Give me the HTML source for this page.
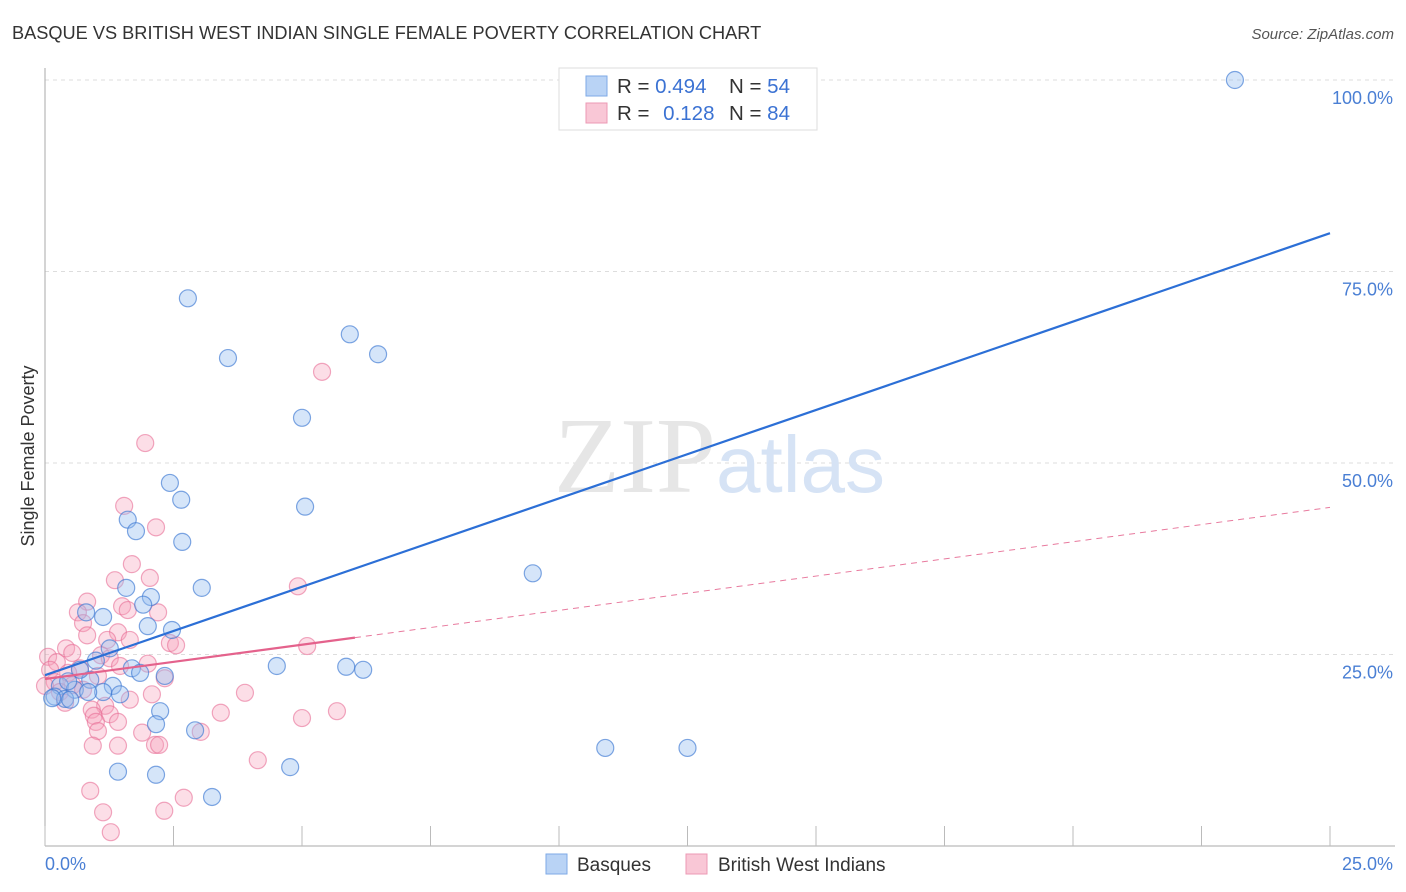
<!DOCTYPE html>
<html><head><meta charset="utf-8"><style>
body{margin:0;background:#fff;font-family:"Liberation Sans",sans-serif;}
svg{display:block}
</style></head><body>
<svg id="chart" width="1406" height="892">
<text x="12" y="39" font-size="18.2" fill="#333">BASQUE VS BRITISH WEST INDIAN SINGLE FEMALE POVERTY CORRELATION CHART</text>
<text x="1394" y="39" font-size="15" fill="#555" font-style="italic" text-anchor="end">Source: ZipAtlas.com</text>
<text x="34" y="456" font-size="18" fill="#333" text-anchor="middle" transform="rotate(-90 34 456)">Single Female Poverty</text>
<g id="grid"></g>
<g id="axes"></g>
<text x="716" y="492" font-size="108" fill="#e6e6e6" text-anchor="end" font-family="Liberation Serif,serif">ZIP</text>
<text x="716" y="492" font-size="80" fill="#d6e3f5">atlas</text>
<g id="pts"></g>
<g id="lines"></g>
<g>
<rect x="559" y="68" width="258" height="62" fill="#fff" stroke="#ddd"/>
<rect x="586" y="76" width="21" height="20" fill="#b9d3f5" stroke="#7ea9e6"/>
<rect x="586" y="103" width="21" height="20" fill="#f9c7d6" stroke="#ec9ab4"/>
<text x="617" y="93" font-size="20.5" fill="#333">R = <tspan fill="#3b72d3">0.494</tspan></text>
<text x="729" y="93" font-size="20.5" fill="#333">N = <tspan fill="#3b72d3">54</tspan></text>
<text x="617" y="120" font-size="20.5" fill="#333">R = <tspan fill="#3b72d3" dx="8">0.128</tspan></text>
<text x="729" y="120" font-size="20.5" fill="#333">N = <tspan fill="#3b72d3">84</tspan></text>
</g>
<g>
<rect x="546" y="854" width="21" height="20" fill="#b9d3f5" stroke="#7ea9e6"/>
<text x="577" y="871" font-size="19" fill="#333">Basques</text>
<rect x="686" y="854" width="21" height="20" fill="#f9c7d6" stroke="#ec9ab4"/>
<text x="718" y="871" font-size="19" fill="#333">British West Indians</text>
</g>
</svg>
<script>
const yTicks=[25,50,75,100];
const yTickLabels=["25.0%","50.0%","75.0%","100.0%"];
const xTicks=[0,2.5,5,7.5,10,12.5,15,17.5,20,22.5,25];
const blueX=[23.15,2.78,3.56,5.93,6.48,5.0,2.43,2.65,5.06,1.61,1.77,2.67,9.49,3.05,1.58,2.06,1.91,0.80,1.13,2.0,2.47,1.26,0.99,1.69,1.85,2.33,4.51,5.86,6.19,0.88,0.29,0.58,1.32,1.13,1.46,0.84,0.19,0.39,0.49,0.14,2.24,2.16,2.92,10.9,12.5,1.42,2.16,4.77,3.25,0.68,0.45];
const blueY=[100,71.5,63.7,66.8,64.2,55.9,47.4,45.2,44.3,42.6,41.1,39.7,35.6,33.7,33.7,32.5,31.5,30.5,29.9,28.7,28.2,25.8,24.2,23.2,22.6,22.2,23.5,23.4,23.0,21.7,20.9,20.4,20.9,20.1,19.8,20.1,19.5,19.2,19.1,19.3,17.6,15.9,15.1,12.8,12.8,9.7,9.3,10.3,6.4,23.0,21.5];
const pinkX=[5.39,1.95,1.54,2.16,1.69,2.04,1.36,4.92,0.82,1.50,0.64,2.20,1.61,0.74,0.82,1.42,1.21,1.65,2.43,2.55,5.10,0.41,0.53,1.09,0.06,1.26,0.23,2.0,1.46,0.68,0.10,0.45,1.03,2.33,0.19,0.54,0,0.74,0.29,3.89,2.08,1.65,0.39,1.17,0.91,0.95,5.68,3.42,1.26,0.99,1.42,5.0,1.03,3.03,1.89,0.93,1.42,2.14,2.22,4.14,0.88,1.13,2.32,2.70,1.28];
const pinkY=[61.9,52.6,44.4,41.6,36.8,35.0,34.7,33.9,31.9,31.3,30.5,30.5,30.8,29.1,27.5,27.9,26.9,26.9,26.5,26.2,26.1,25.8,25.2,24.9,24.7,24.5,24.0,23.8,23.5,23.2,23.0,22.6,22.2,21.9,21.4,21.0,20.9,20.4,20.1,20.0,19.8,19.1,18.7,18.3,17.8,17.0,17.6,17.4,17.2,16.2,16.2,16.7,15.0,14.9,14.8,13.1,13.1,13.2,13.2,11.2,7.2,4.4,4.6,6.3,1.8];
const blueLine=[22.3,80.0];
const pinkLine=[21.8,44.2];
const pinkSolidEnd=6.03;
const X=v=>45+v/25*1285, Y=v=>846-v/100*766;
const NS="http://www.w3.org/2000/svg";
function mk(t,a,p){const e=document.createElementNS(NS,t);for(const k in a)e.setAttribute(k,a[k]);p.appendChild(e);return e;}
const grid=document.getElementById('grid'),axes=document.getElementById('axes'),pts=document.getElementById('pts'),lines=document.getElementById('lines');
yTicks.forEach((t,i)=>{
 const l=mk('line',{x1:45,x2:1395,y1:Y(t),y2:Y(t),stroke:'#ddd','stroke-dasharray':'4,4'},grid);
 
 
 const tx=mk('text',{x:1393,y:Y(t)+24,'font-size':18,fill:'#4a7fd4','text-anchor':'end'},grid);
 tx.textContent=yTickLabels[i];
 
 
});
const ya=mk('line',{x1:45,x2:45,y1:68,y2:846,stroke:'#aaa'},axes);


const xa=mk('line',{x1:45,x2:1395,y1:846,y2:846,stroke:'#aaa'},axes);


xTicks.forEach(t=>{
 const l=mk('line',{x1:X(t),x2:X(t),y1:826,y2:846,stroke:'#bbb'},axes);
 
 
});
const xl0=mk('text',{x:45,y:870,'font-size':18,fill:'#4a7fd4'},axes);xl0.textContent='0.0%';


const xl1=mk('text',{x:1393,y:870,'font-size':18,fill:'#4a7fd4','text-anchor':'end'},axes);xl1.textContent='25.0%';


pinkX.forEach((x,i)=>{
 const c=mk('circle',{cx:X(x),cy:Y(pinkY[i]),r:8.5,fill:'rgba(245,160,185,0.35)',stroke:'rgba(232,110,150,0.6)','stroke-width':1.2},pts);
 
 
});
blueX.forEach((x,i)=>{
 const c=mk('circle',{cx:X(x),cy:Y(blueY[i]),r:8.5,fill:'rgba(150,190,240,0.4)',stroke:'rgba(60,120,210,0.65)','stroke-width':1.2},pts);
 
 
});
const py=x=>pinkLine[0]+(pinkLine[1]-pinkLine[0])*x/25;
const pd=mk('line',{x1:X(pinkSolidEnd),y1:Y(py(pinkSolidEnd)),x2:X(25),y2:Y(pinkLine[1]),stroke:'#e87a9e','stroke-width':1,'stroke-dasharray':'6,5'},lines);


const ps=mk('line',{x1:X(0),y1:Y(pinkLine[0]),x2:X(pinkSolidEnd),y2:Y(py(pinkSolidEnd)),stroke:'#e4628c','stroke-width':2.2},lines);


const bl=mk('line',{x1:X(0),y1:Y(blueLine[0]),x2:X(25),y2:Y(blueLine[1]),stroke:'#2c6fd6','stroke-width':2.2},lines);


</script>
</body></html>
